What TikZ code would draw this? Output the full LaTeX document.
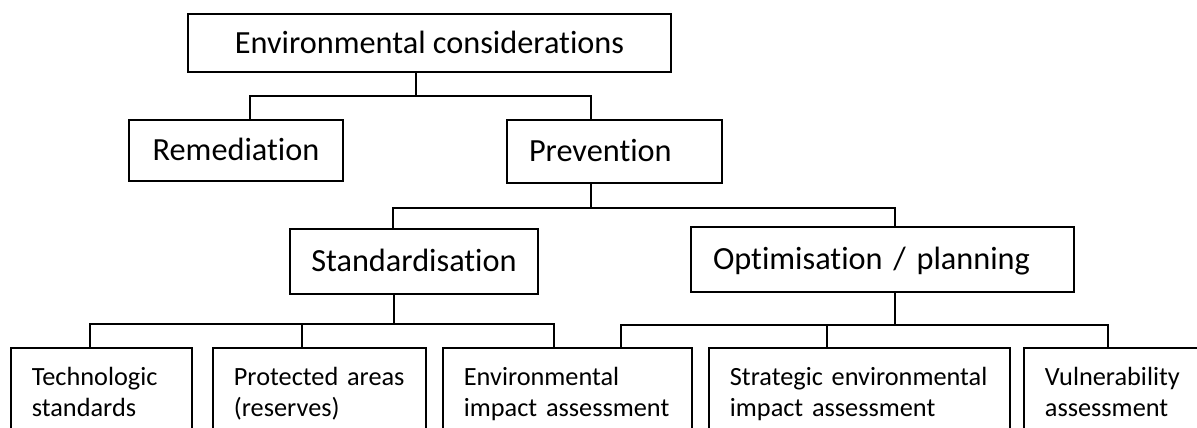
\documentclass[tikz,border=0pt]{standalone}
\usepackage{fontspec}
\setmainfont{Carlito}[Ligatures=NoCommon]

\tikzset{
  box/.style={draw, line width=1.8pt, inner sep=0pt, text height=20.8pt, text depth=0pt,
    font=\fontsize{32.3}{39}\selectfont},
  leftbox/.style={box, align=left, inner xsep=22pt},
  leaf/.style={draw, line width=1.8pt, anchor=north west, align=left,
    inner xsep=21pt, inner ysep=19pt, font=\fontsize{26.3}{31}\selectfont},
}

\begin{document}
\begin{tikzpicture}[x=1pt, y=-1pt, line width=1.8pt]
        \useasboundingbox (0,0) rectangle (1197,428);
        \clip (0,0) rectangle (1197,428);

        % Boxes
        \node[box, minimum width=483pt, minimum height=58pt] (env) at (429.5,43) {Environmental considerations};
        \node[box, minimum width=214pt, minimum height=61pt] (rem) at (236,150.5) {Remediation};
        \node[leftbox, text width=171pt, minimum height=63pt] (prev) at (614.5,151.5) {Prevention};
        \node[box, minimum width=248pt, minimum height=65pt] (std) at (414,261.5) {Standardisation};
        \node[leftbox, text width=339pt, minimum height=65pt] (opt) at (882.5,259.5) {Optimisation / planning};

        % Leaves
        \node[leaf, text width=139pt] (tech) at (10,347) {Technologic\\standards};
        \node[leaf, text width=171pt] (prot) at (212,347) {Protected~areas\\(reserves)};
        \node[leaf, text width=207pt] (eia) at (442,347) {Environmental\\impact~assessment};
        \node[leaf, text width=259pt] (sea) at (708,347) {Strategic~environmental\\impact~assessment};
        \node[leaf, text width=158pt] (vul) at (1023,347) {Vulnerability\\assessment};

        % Junctions
        \coordinate (b1m) at (416,96);  \coordinate (b1l) at (250,96);  \coordinate (b1r) at (591,96);
        \coordinate (b2m) at (591,208); \coordinate (b2l) at (393,208); \coordinate (b2r) at (895,208);
        \coordinate (b3m) at (394,324); \coordinate (b3l) at (90,324);  \coordinate (b3c) at (302,324); \coordinate (b3r) at (554,324);
        \coordinate (b4m) at (895,325); \coordinate (b4l) at (621,325); \coordinate (b4c) at (827,325); \coordinate (b4r) at (1108,325);

        % Lines
        \draw (env.south -| b1m) -- (b1m);
        \draw (rem.north -| b1l) -- (b1l) -- (b1r) -- (prev.north -| b1r);
        \draw (prev.south -| b2m) -- (b2m);
        \draw (std.north -| b2l) -- (b2l) -- (b2r) -- (opt.north -| b2r);
        \draw (std.south -| b3m) -- (b3m);
        \draw (tech.north -| b3l) -- (b3l) -- (b3r) -- (eia.north -| b3r);
        \draw (b3c) -- (prot.north -| b3c);
        \draw (opt.south -| b4m) -- (b4m);
        \draw (eia.north -| b4l) -- (b4l) -- (b4r) -- (vul.north -| b4r);
        \draw (b4c) -- (sea.north -| b4c);
    \end{tikzpicture}
\end{document}
